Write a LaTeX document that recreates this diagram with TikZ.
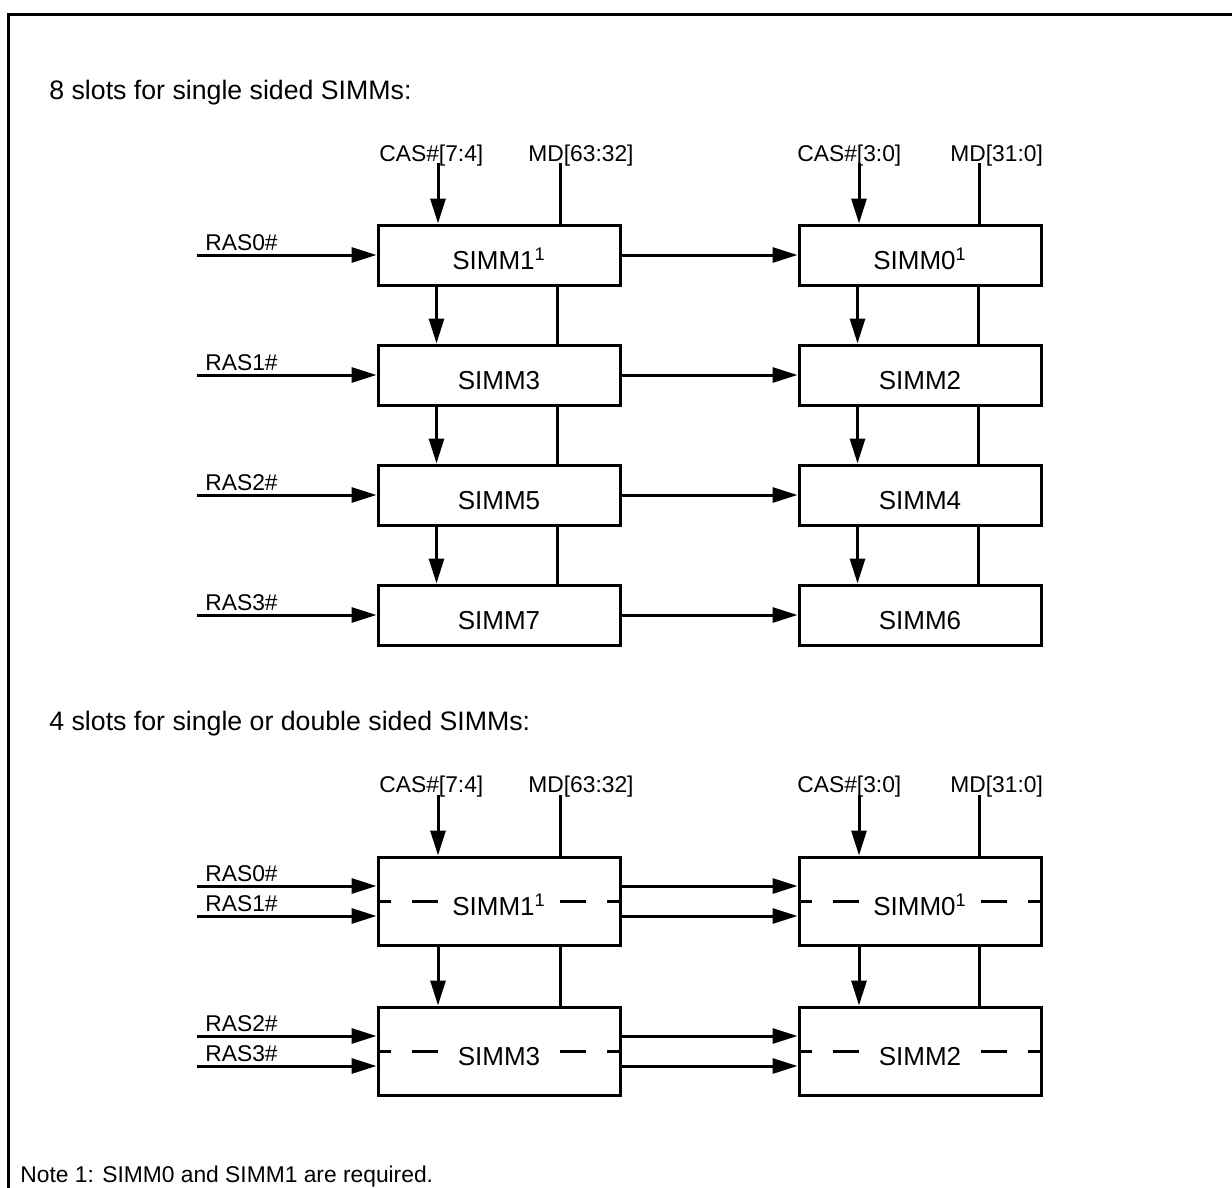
\documentclass[tikz,border=0pt]{standalone}
\usepackage{fontspec}
\setmainfont{Liberation Sans}
\usetikzlibrary{arrows.meta,calc}
\newcommand{\lblfont}{\fontsize{11.4}{13}\selectfont}
\newcommand{\simmfont}{\fontsize{13}{15}\selectfont}
\newcommand{\hdrfont}{\fontsize{13.35}{15}\selectfont}
\newcommand{\req}{\textsuperscript{1}}
\tikzset{
  simm/.style    = {rectangle, draw, line width=1.5pt, minimum width=121pt, minimum height=#1,
                    inner sep=0pt, text height=14pt, text depth=0pt, font=\simmfont},
  sig/.style     = {-{Triangle[length=12.5pt,width=7.5pt]}, line width=1.5pt},
  bus/.style     = {line width=1.5pt},
  midline/.style = {line width=1.5pt, dash pattern=on 13pt off 10.5pt},
  lbl/.style     = {font=\lblfont, inner sep=0pt, anchor=base west},
  hdr/.style     = {font=\hdrfont, inner sep=0pt, anchor=base west},
}

\begin{document}
\begin{tikzpicture}[x=0.5pt, y=-0.5pt]
  \useasboundingbox (0,0) rectangle (1232,1188);
  \draw[bus] (8,1188) -- (8,15) -- (1232,15);

  %% ---------------- 8 slots, single sided ----------------------------------------------------
  \node[hdr] (hdrA) at (49,100) {8 slots for single sided SIMMs:};
  \node[lbl] (casA) at (379,162) {CAS\#[7:4]};
  \node[lbl] (mdA)  at (528,162) {MD[63:32]};
  \node[lbl] (casB) at (797,162) {CAS\#[3:0]};
  \node[lbl] (mdB)  at (950,162) {MD[31:0]};
  \coordinate (casAt) at (438,163);
  \coordinate (mdAt)  at (560,163);
  \coordinate (casBt) at (859,163);
  \coordinate (mdBt)  at (979,163);

  \foreach \r/\a/\b/\ta/\tb in {0/1/0/{SIMM1\req}/{SIMM0\req}, 1/3/2/SIMM3/SIMM2,
                                2/5/4/SIMM5/SIMM4, 3/7/6/SIMM7/SIMM6} {
    \node[simm=30pt] (u\a) at (499,255+120*\r) {\ta};
    \node[simm=30pt] (u\b) at (920,255+120*\r) {\tb};
    \coordinate (ras\r) at (197,255+120*\r);
    \node[lbl] (rasl\r) at (205,250+120*\r) {RAS\r\#};
    \draw[sig] (ras\r) -- (u\a.west);
    \draw[sig] (u\a.east) -- (u\b.west);
  }
  \draw[sig] (casAt) -- (casAt |- u1.north);
  \draw[bus] (mdAt)  -- (mdAt |- u1.north);
  \draw[sig] (casBt) -- (casBt |- u0.north);
  \draw[bus] (mdBt)  -- (mdBt |- u0.north);
  \foreach \p/\q in {1/3, 3/5, 5/7, 0/2, 2/4, 4/6} {
    \draw[sig] ($(u\p.south west)+(60,0)$)  -- ($(u\q.north west)+(60,0)$);
    \draw[bus] ($(u\p.south west)+(181,0)$) -- ($(u\q.north west)+(181,0)$);
  }

  %% ---------------- 4 slots, single or double sided -------------------------------------------
  \node[hdr] (hdrB) at (49,730) {4 slots for single or double sided SIMMs:};
  \node[lbl] (casC) at (379,792) {CAS\#[7:4]};
  \node[lbl] (mdC)  at (528,792) {MD[63:32]};
  \node[lbl] (casD) at (797,792) {CAS\#[3:0]};
  \node[lbl] (mdD)  at (950,792) {MD[31:0]};
  \coordinate (casCt) at (438,795);
  \coordinate (mdCt)  at (560,795);
  \coordinate (casDt) at (859,795);
  \coordinate (mdDt)  at (979,795);

  \node[simm=44pt] (d1) at (499,901)  {SIMM1\req};
  \node[simm=44pt] (d0) at (920,901)  {SIMM0\req};
  \node[simm=44pt] (d3) at (499,1051) {SIMM3};
  \node[simm=44pt] (d2) at (920,1051) {SIMM2};
  \foreach \n in {1,0,3,2} {
    \draw[midline] ($(d\n.center)+(-61,0)$) -- (d\n.west);
    \draw[midline] ($(d\n.center)+(61,0)$)  -- (d\n.east);
  }
  \foreach \r/\a/\b/\y in {0/1/0/886, 1/1/0/916, 2/3/2/1036, 3/3/2/1066} {
    \coordinate (rasd\r) at (197,\y);
    \node[lbl] (rasdl\r) at (205,\y-5) {RAS\r\#};
    \draw[sig] (rasd\r) -- (d\a.west |- rasd\r);
    \draw[sig] (d\a.east |- rasd\r) -- (d\b.west |- rasd\r);
  }
  \draw[sig] (casCt) -- (casCt |- d1.north);
  \draw[bus] (mdCt)  -- (mdCt |- d1.north);
  \draw[sig] (casDt) -- (casDt |- d0.north);
  \draw[bus] (mdDt)  -- (mdDt |- d0.north);
  \draw[sig] (d1.south -| casCt) -- (d3.north -| casCt);
  \draw[bus] (d1.south -| mdCt)  -- (d3.north -| mdCt);
  \draw[sig] (d0.south -| casDt) -- (d2.north -| casDt);
  \draw[bus] (d0.south -| mdDt)  -- (d2.north -| mdDt);

  \node[lbl] (note) at (20,1182) {Note 1: SIMM0 and SIMM1 are required.};
\end{tikzpicture}
\end{document}
